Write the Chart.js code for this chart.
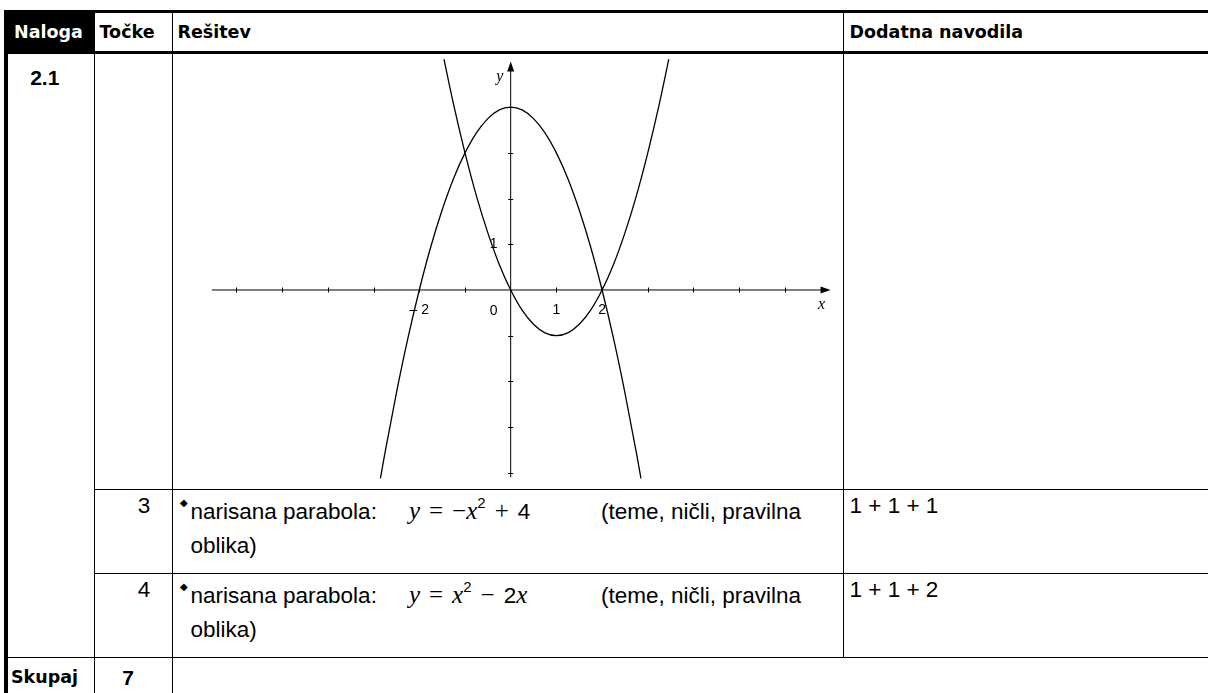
<!DOCTYPE html>
<html>
<head>
<meta charset="utf-8">
<script src="https://cdn.jsdelivr.net/npm/chart.js@4.4.1/dist/chart.umd.min.js"></script>
<style>
  html, body { margin: 0; padding: 0; background: #fff; width: 1208px; height: 693px; overflow: hidden; }
  table {
    position: absolute; left: 4px; top: 10px;
    border-collapse: collapse; table-layout: fixed; width: 1230px;
    font-family: "Liberation Sans", Arial, sans-serif; font-size: 22.5px; color: #000;
  }
  td, th { border: 1px solid #000; padding: 0; vertical-align: top; }
  th {
    font-family: "DejaVu Sans", sans-serif; font-weight: bold; font-size: 17.5px;
    text-align: left; vertical-align: middle; height: 38px; padding-left: 5px;
    border-top: 3px solid #000; border-bottom: 3px solid #000;
  }
  th.first { background: #000; color: #fff; padding-left: 6px; }
  .left { border-left: 4px solid #000; }
  .num { font-weight: bold; font-size: 21px; text-align: center; padding: 12px 12px 0 0; }
  .pts { text-align: center; padding: 4px 0 0 22px; line-height: 24px; }
  .sol { position: relative; padding: 4px 0 0 18px; line-height: 34px; white-space: nowrap; }
  .bul { position: absolute; left: 7px; top: 3px; font-size: 10px; line-height: 20px; }
  .dod { padding: 4px 0 0 6px; line-height: 24px; }
  .m { display: inline-block; width: 192px; margin-left: 32px; line-height: 34px;
       font-family: "Liberation Serif", "Times New Roman", serif; font-size: 25px; }
  .m i { font-style: italic; }
  .m .op { margin: 0 9px; }
  .m .d { font-family: "Liberation Sans", Arial, sans-serif; font-size: 22.5px; }
  .m sup { font-family: "Liberation Sans", Arial, sans-serif; font-size: 15px; line-height: 0; vertical-align: 11px; }
  .sum { font-family: "DejaVu Sans", sans-serif; font-weight: bold; font-size: 17.5px; padding: 9px 0 0 3px; }
  .seven { font-weight: bold; font-size: 21px; text-align: center; padding: 8px 10px 0 0; }
  #graf { position: absolute; left: 171px; top: 53px; width: 669px; height: 434px; }
</style>
</head>
<body>
<table>
  <colgroup>
    <col style="width:88px"><col style="width:78px"><col style="width:671px"><col style="width:393px">
  </colgroup>
  <tr>
    <th class="first left">Naloga</th><th>Točke</th><th>Rešitev</th><th style="padding-left:6px">Dodatna navodila</th>
  </tr>
  <tr style="height:437px">
    <td class="num left" rowspan="3">2.1</td><td></td><td></td><td></td>
  </tr>
  <tr style="height:84px">
    <td class="pts">3</td>
    <td class="sol"><span class="bul">◆</span>narisana parabola:<span class="m"><i>y</i><span class="op">=</span>−<i>x</i><sup>2</sup><span class="op">+</span><span class="d">4</span></span>(teme, ničli, pravilna<br>oblika)</td>
    <td class="dod">1 + 1 + 1</td>
  </tr>
  <tr style="height:84px">
    <td class="pts">4</td>
    <td class="sol"><span class="bul">◆</span>narisana parabola:<span class="m"><i>y</i><span class="op">=</span><i>x</i><sup>2</sup><span class="op">−</span><span class="d">2</span><i>x</i></span>(teme, ničli, pravilna<br>oblika)</td>
    <td class="dod">1 + 1 + 2</td>
  </tr>
  <tr style="height:40px">
    <td class="sum left">Skupaj</td><td class="seven">7</td><td colspan="2"></td>
  </tr>
</table>
<canvas id="graf" width="669" height="434"></canvas>
<script>
// parabola y = -x^2 + 4
const xs1 = [-2.85, -2.75, -2.5, -2.25, -2, -1.75, -1.5, -1.25, -1, -0.75, -0.5, -0.25, 0,
             0.25, 0.5, 0.75, 1, 1.25, 1.5, 1.75, 2, 2.25, 2.5, 2.75, 2.85];
const ys1 = [-4.12, -3.56, -2.25, -1.06, 0, 0.94, 1.75, 2.44, 3, 3.44, 3.75, 3.94, 4,
             3.94, 3.75, 3.44, 3, 2.44, 1.75, 0.94, 0, -1.06, -2.25, -3.56, -4.12];
// parabola y = x^2 - 2x
const xs2 = [-1.46, -1.25, -1, -0.75, -0.5, -0.25, 0, 0.25, 0.5, 0.75, 1, 1.25, 1.5, 1.75,
             2, 2.25, 2.5, 2.75, 3, 3.25, 3.46];
const ys2 = [5.05, 4.06, 3, 2.06, 1.25, 0.56, 0, -0.44, -0.75, -0.94, -1, -0.94, -0.75, -0.44,
             0, 0.56, 1.25, 2.06, 3, 4.06, 5.05];

const xTicks = [-6, -5, -4, -3, -2, -1, 1, 2, 3, 4, 5, 6];
const yTicks = [-4, -3, -2, -1, 1, 2, 3, 4];
const xLabelVals = [-2, 1, 2];
const xLabelTexts = ["– 2", "1", "2"];
const yLabelVals = [1];
const yLabelTexts = ["1"];
const xAxisEnds = [-6.54, 7.0];
const yAxisEnds = [-4.1, 5.0];

const toPoints = (xs, ys) => xs.map((x, i) => ({ x: x, y: ys[i] }));

const osi = {
  id: "osi",
  beforeDatasetsDraw(chart) {
    const c = chart.ctx, sx = chart.scales.x, sy = chart.scales.y;
    const ox = sx.getPixelForValue(0), oy = sy.getPixelForValue(0);
    c.save();
    c.strokeStyle = "#000";
    c.fillStyle = "#000";
    c.lineWidth = 1;
    // x os
    const xa = sx.getPixelForValue(xAxisEnds[0]), xb = sx.getPixelForValue(xAxisEnds[1]);
    c.beginPath();
    c.moveTo(xa, oy); c.lineTo(xb - 6, oy);
    c.stroke();
    c.beginPath();
    c.moveTo(xb, oy); c.lineTo(xb - 10, oy - 3.5); c.lineTo(xb - 10, oy + 3.5); c.closePath();
    c.fill();
    // y os
    const ya = sy.getPixelForValue(yAxisEnds[0]), yb = sy.getPixelForValue(yAxisEnds[1]);
    c.beginPath();
    c.moveTo(ox, ya); c.lineTo(ox, yb + 6);
    c.stroke();
    c.beginPath();
    c.moveTo(ox, yb); c.lineTo(ox - 3.5, yb + 10); c.lineTo(ox + 3.5, yb + 10); c.closePath();
    c.fill();
    // oznake
    c.beginPath();
    xTicks.forEach(v => {
      const p = Math.round(sx.getPixelForValue(v)) + 0.5;
      c.moveTo(p, oy - 2.5); c.lineTo(p, oy + 2.5);
    });
    yTicks.forEach(v => {
      const p = Math.round(sy.getPixelForValue(v)) + 0.5;
      c.moveTo(ox - 2.5, p); c.lineTo(ox + 2.5, p);
    });
    c.stroke();
    // napisi
    c.font = '14px "Liberation Sans", Arial, sans-serif';
    c.textAlign = "center";
    c.textBaseline = "middle";
    xLabelVals.forEach((v, i) => c.fillText(xLabelTexts[i], sx.getPixelForValue(v), oy + 20));
    yLabelVals.forEach((v, i) => c.fillText(yLabelTexts[i], ox - 17, sy.getPixelForValue(v)));
    c.fillText("0", ox - 17, oy + 21);
    c.font = 'italic 16px "Liberation Serif", "Times New Roman", serif';
    c.fillText("x", xb - 9, oy + 15);
    c.fillText("y", ox - 11, yb + 15);
    c.restore();
  }
};

new Chart(document.getElementById("graf"), {
  type: "scatter",
  data: {
    datasets: [
      {
        label: "y = -x^2 + 4",
        data: toPoints(xs1, ys1),
        showLine: true,
        borderColor: "#000",
        borderWidth: 1.3,
        pointRadius: 0,
        cubicInterpolationMode: "monotone",
      },
      {
        label: "y = x^2 - 2x",
        data: toPoints(xs2, ys2),
        showLine: true,
        borderColor: "#000",
        borderWidth: 1.3,
        pointRadius: 0,
        cubicInterpolationMode: "monotone",
      },
    ],
  },
  options: {
    responsive: false,
    animation: false,
    layout: { padding: 0 },
    plugins: { legend: { display: false }, tooltip: { enabled: false } },
    scales: {
      x: { type: "linear", display: false, min: -7.433, max: 7.206 },
      y: { type: "linear", display: false, min: -4.311, max: 5.186 },
    },
  },
  plugins: [osi],
});
</script>
</body>
</html>
